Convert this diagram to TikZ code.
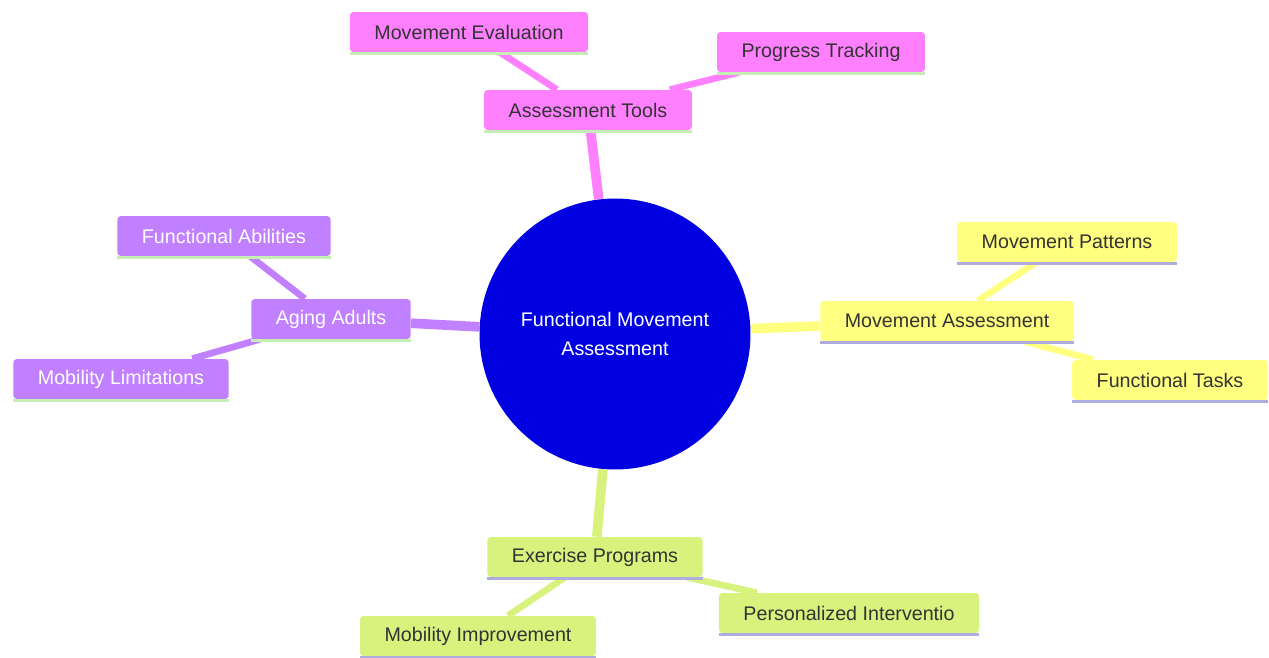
\documentclass[tikz,border=0pt]{standalone}
\usepackage{fontspec}
\setmainfont{Liberation Sans}
\usepackage{xcolor}
\usepackage{tikz}
\tikzset{>=latex}
\usetikzlibrary{backgrounds}

\definecolor{toolpink}{HTML}{FF80FF}
\definecolor{agepurple}{HTML}{C080FF}
\definecolor{moveyellow}{HTML}{FFFF80}
\definecolor{exgreen}{HTML}{D8F27E}
\definecolor{rootblue}{HTML}{0000E0}
\definecolor{linegreen}{HTML}{C4EEB4}
\definecolor{linelav}{HTML}{ADADE0}
\definecolor{txtdark}{HTML}{333333}

\tikzset{
  topic/.style={rectangle, rounded corners=2pt, inner xsep=0.49cm, inner ysep=0pt,
    minimum height=0.8cm, font=\fontsize{11.2}{13.5}\selectfont, text=txtdark},
  link/.style={line width=5.5pt},
  twig/.style={line width=3.8pt},
}

\begin{document}
\begin{tikzpicture}[x=0.02cm, y=-0.02cm]
    \useasboundingbox (0, 0) rectangle (1269, 657);

    % centre
    \node[circle, fill=rootblue, minimum size=5.42cm, text=white, align=center,
          font=\fontsize{11.2}{17}\selectfont] (root) at (615, 334) {Functional Movement\\Assessment};

    % Assessment Tools
    \node[topic, fill=toolpink] (tools) at (588, 110) {Assessment Tools};
    \node[topic, fill=toolpink] (evaluation) at (469, 32) {Movement Evaluation};
    \node[topic, fill=toolpink] (tracking) at (821, 52) {Progress Tracking};

    % Aging Adults
    \node[topic, fill=agepurple, text=white] (aging) at (331, 319) {Aging Adults};
    \node[topic, fill=agepurple, text=white] (abilities) at (224, 236) {Functional Abilities};
    \node[topic, fill=agepurple, text=white] (limits) at (121, 379) {Mobility Limitations};

    % Movement Assessment
    \node[topic, fill=moveyellow] (moveassess) at (947, 321) {Movement Assessment};
    \node[topic, fill=moveyellow] (patterns) at (1067, 242) {Movement Patterns};
    \node[topic, fill=moveyellow] (tasks) at (1170, 380) {Functional Tasks};

    % Exercise Programs
    \node[topic, fill=exgreen] (exercise) at (595, 557) {Exercise Programs};
    \node[topic, fill=exgreen] (improve) at (478, 636) {Mobility Improvement};
    \node[topic, fill=exgreen] (personal) at (849, 613) {Personalized Interventio};

    % bottom edges
    \foreach \n in {tools, evaluation, tracking, aging, abilities, limits}{
            \draw[linegreen, line width=1.3pt] ([yshift=-0.6pt]\n.south west) -- ([yshift=-0.6pt]\n.south east);
        }
    \foreach \n in {moveassess, patterns, tasks, exercise, improve, personal}{
            \draw[linelav, line width=1.6pt] ([yshift=-0.6pt]\n.south west) -- ([yshift=-0.6pt]\n.south east);
        }

    \begin{scope}[on background layer]
        \draw[link, toolpink] (root) -- (tools);
        \draw[twig, toolpink] (tools) -- (evaluation);
        \draw[twig, toolpink] (tools) -- (tracking);

        \draw[link, agepurple] (root) -- (aging);
        \draw[twig, agepurple] (aging) -- (abilities);
        \draw[twig, agepurple] (aging) -- (limits);

        \draw[link, moveyellow] (root) -- (moveassess);
        \draw[twig, moveyellow] (moveassess) -- (patterns);
        \draw[twig, moveyellow] (moveassess) -- (tasks);

        \draw[link, exgreen] (root) -- (exercise);
        \draw[twig, exgreen] (exercise) -- (improve);
        \draw[twig, exgreen] (exercise) -- (personal);
    \end{scope}
\end{tikzpicture}
\end{document}
